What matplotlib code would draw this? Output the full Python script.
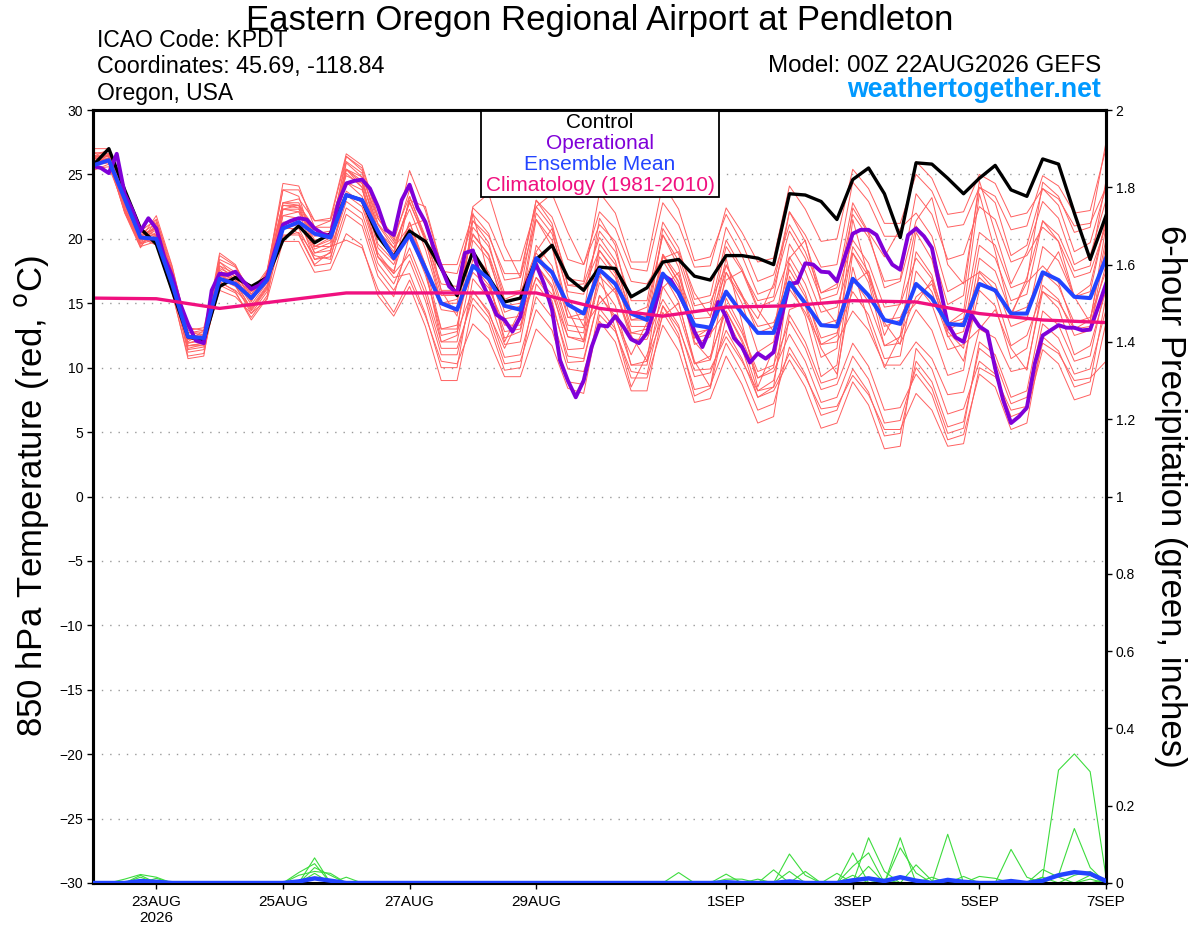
import numpy as np
import matplotlib
matplotlib.use("Agg")
import matplotlib.pyplot as plt
from matplotlib.patches import Rectangle

plt.rcParams['font.family'] = ['Liberation Sans', 'DejaVu Sans']

# 6-hourly steps from 00Z 22AUG2026 (65 points), operational is 3-hourly (129 points)
tick_days = [1, 3, 5, 7, 10, 12, 14, 16]
tick_labels = ['23AUG\n2026', '25AUG', '27AUG', '29AUG', '1SEP', '3SEP', '5SEP', '7SEP']

control = [25.7, 27.0, 23.8, 20.8, 19.6, 16.0, 12.4, 12.1, 16.3, 17.0, 16.3, 17.0,
           19.9, 21.0, 19.7, 20.4, 23.4, 23.0, 20.2, 18.6, 20.6, 19.8, 17.7, 15.6,
           19.0, 17.0, 15.1, 15.4, 18.4, 19.5, 17.0, 16.0, 17.8, 17.7, 15.5, 16.2,
           18.2, 18.4, 17.1, 16.8, 18.7, 18.7, 18.5, 18.0, 23.5, 23.4, 22.9, 21.5,
           24.6, 25.5, 23.5, 20.1, 25.9, 25.8, 24.7, 23.5, 24.7, 25.7, 23.8, 23.3,
           26.2, 25.8, 22.0, 18.4, 21.8]

operational = [25.65, 25.5, 25.1, 26.6, 23.5, 22.2, 20.6, 21.6, 20.8, 18.6, 17.1, 15.0,
               13.4, 12.1, 11.9, 16.0, 17.3, 17.2, 17.45, 16.7, 16.1, 16.4, 17.0, 19.1,
               21.1, 21.4, 21.6, 21.5, 20.8, 20.4, 20.2, 22.8, 24.3, 24.5, 24.6, 23.9,
               22.5, 20.7, 20.3, 23.0, 24.2, 22.4, 21.3, 19.4, 17.8, 16.3, 15.8, 18.9,
               19.1, 16.8, 15.5, 14.1, 13.7, 12.8, 13.95, 16.8, 18.0, 16.5, 14.5, 10.6,
               9.0, 7.7, 9.0, 11.6, 13.3, 13.2, 14.0, 13.2, 12.2, 11.9, 12.7, 14.7,
               17.2, 16.8, 15.8, 14.5, 12.8, 11.6, 13.05, 15.1, 13.95, 12.3, 11.6, 10.4,
               11.1, 10.7, 11.2, 13.95, 16.5, 16.6, 18.1, 18.0, 17.45, 17.4, 16.7, 18.6,
               20.4, 20.7, 20.7, 20.3, 19.0, 18.0, 17.6, 20.3, 20.8, 20.2, 19.3, 16.3,
               13.4, 12.35, 12.0, 14.1, 13.2, 12.8, 9.95, 7.5, 5.7, 6.2, 6.9, 10.3,
               12.5, 12.9, 13.3, 13.1, 13.1, 12.9, 12.95, 14.7, 16.5]

ens_mean = [25.7, 26.1, 23.1, 20.1, 20.0, 16.5, 12.4, 12.3, 16.9, 16.5, 15.4, 16.8,
            20.8, 21.3, 20.4, 20.1, 23.4, 23.0, 20.6, 18.5, 20.3, 17.7, 15.0, 14.5,
            17.9, 16.9, 14.8, 14.5, 18.5, 17.4, 14.9, 14.2, 17.6, 16.5, 14.2, 13.7,
            17.3, 15.8, 13.3, 13.1, 15.9, 14.2, 12.7, 12.7, 16.6, 15.0, 13.3, 13.2,
            16.9, 15.6, 13.7, 13.4, 16.5, 15.4, 13.4, 13.3, 16.5, 16.0, 14.2, 14.2,
            17.4, 16.8, 15.5, 15.4, 18.5]

# daily climatology
climatology = [15.4, 15.35, 14.6, 15.2, 15.8, 15.8, 15.8, 15.8, 14.6, 14.0, 14.7,
               14.8, 15.2, 15.1, 14.2, 13.7, 13.5]

members = [
    [26.3, 26.5, 23.2, 20.3, 20.8, 17.1, 12.7, 12.7, 17.7, 17.1, 15.7, 17.2, 22.3, 22.6, 20.9, 20.9,
     25.4, 24.8, 21.6, 19.8, 23.8, 21.0, 17.5, 17.3, 21.4, 20.2, 17.3, 17.3, 23.0, 21.7, 18.4, 18.0,
     22.1, 20.8, 17.7, 17.5, 22.8, 21.1, 17.8, 17.9, 22.4, 20.5, 18.2, 18.5, 24.1, 22.3, 19.8, 20.0,
     25.4, 23.9, 21.2, 21.2, 25.0, 23.7, 20.9, 21.1, 24.0, 23.3, 20.7, 21.0, 24.9, 24.1, 22.0, 22.2, 27.0],
    [25.9, 26.1, 22.3, 19.6, 20.0, 16.3, 11.4, 11.6, 16.4, 15.8, 13.9, 15.6, 20.8, 20.8, 18.4, 18.6,
     22.4, 21.5, 17.6, 16.0, 18.3, 15.2, 11.0, 11.0, 15.9, 14.4, 10.8, 11.0, 15.5, 13.9, 9.9, 9.7,
     13.6, 12.0, 8.2, 8.2, 14.3, 12.3, 8.3, 8.6, 11.9, 9.7, 6.7, 7.2, 11.6, 9.5, 6.3, 6.7,
     9.9, 8.1, 4.7, 4.9, 10.5, 8.9, 5.4, 5.8, 11.5, 10.5, 7.2, 7.7, 13.4, 12.3, 9.5, 9.9, 14.5],
    [27.0, 27.0, 22.9, 20.2, 20.8, 16.9, 11.7, 11.9, 18.7, 17.9, 15.7, 17.4, 24.3, 24.1, 20.9, 21.4,
     26.4, 25.3, 20.6, 19.3, 21.0, 21.5, 16.0, 14.0, 21.4, 19.7, 15.3, 15.8, 19.0, 20.8, 15.5, 13.2,
     19.1, 17.3, 12.7, 13.0, 16.2, 17.4, 12.0, 10.6, 17.4, 15.0, 11.2, 12.0, 18.5, 19.9, 15.0, 13.4,
     22.4, 20.4, 16.2, 16.7, 21.4, 23.2, 18.0, 16.5, 24.0, 22.8, 18.7, 19.5, 23.9, 22.6, 19.0, 19.7, 24.0],
    [25.7, 25.9, 22.1, 19.4, 21.0, 17.3, 12.4, 12.6, 17.4, 16.8, 14.9, 16.6, 21.2, 20.4, 18.0, 19.0,
     23.4, 22.5, 18.6, 17.0, 17.3, 14.2, 10.0, 10.0, 16.9, 15.4, 11.8, 12.0, 18.5, 16.9, 12.9, 12.7,
     19.6, 18.0, 14.2, 14.2, 20.3, 18.3, 14.3, 14.6, 19.9, 17.7, 14.7, 15.2, 18.6, 16.5, 13.3, 13.7,
     16.9, 15.1, 11.7, 11.9, 14.5, 12.9, 9.4, 9.8, 17.5, 16.5, 13.2, 13.7, 19.4, 18.3, 15.5, 15.9, 21.5],
    [26.0, 26.2, 22.9, 20.0, 19.8, 16.1, 11.7, 11.7, 17.9, 16.8, 15.4, 17.5, 22.8, 23.1, 21.4, 21.4,
     24.9, 24.3, 21.1, 19.3, 22.8, 20.0, 16.5, 16.3, 22.4, 21.2, 18.3, 18.3, 22.5, 23.5, 20.5, 18.0,
     21.1, 19.8, 16.7, 16.5, 18.5, 19.0, 15.8, 14.0, 17.4, 15.5, 13.2, 13.5, 16.1, 14.3, 11.8, 12.0,
     14.4, 12.9, 10.2, 10.2, 12.0, 10.7, 7.9, 8.1, 13.0, 12.3, 9.7, 10.0, 15.9, 15.1, 13.0, 13.2, 18.0],
    [26.4, 26.9, 22.6, 20.0, 21.8, 17.9, 12.7, 12.9, 17.2, 16.4, 14.2, 15.9, 22.3, 22.1, 18.9, 19.4,
     25.4, 24.3, 19.6, 18.3, 20.8, 17.5, 12.5, 12.8, 16.0, 14.2, 11.5, 14.0, 17.0, 15.2, 10.4, 10.5,
     15.6, 13.8, 11.0, 13.5, 18.8, 16.6, 11.8, 12.4, 18.0, 15.6, 13.8, 16.5, 22.1, 19.8, 15.8, 16.5,
     22.8, 20.5, 18.6, 20.8, 22.0, 20.2, 15.9, 16.6, 17.4, 16.0, 14.2, 16.6, 17.9, 16.6, 13.0, 13.7, 20.0],
    [25.4, 25.6, 22.4, 19.8, 20.5, 16.8, 11.9, 12.1, 17.9, 17.3, 15.4, 17.1, 21.3, 21.3, 18.9, 19.1,
     22.9, 22.0, 18.1, 16.5, 19.3, 16.2, 12.0, 12.0, 17.9, 16.4, 12.8, 13.0, 19.5, 17.9, 13.9, 13.7,
     17.6, 16.0, 12.2, 12.2, 15.3, 13.3, 9.3, 9.6, 12.9, 10.7, 7.7, 8.2, 10.6, 8.5, 5.3, 5.7,
     8.9, 7.1, 3.7, 3.9, 11.5, 9.9, 6.4, 6.8, 10.5, 9.5, 6.2, 6.7, 11.4, 10.3, 7.5, 7.9, 13.5],
    [26.4, 26.6, 22.8, 20.1, 19.5, 15.8, 10.9, 11.1, 16.9, 16.3, 14.4, 16.1, 22.3, 22.3, 19.9, 20.1,
     26.4, 25.5, 21.6, 20.0, 25.3, 22.2, 18.0, 18.0, 21.9, 20.4, 16.8, 17.0, 21.5, 19.9, 15.9, 15.7,
     20.6, 19.0, 15.2, 15.2, 21.3, 19.3, 15.3, 15.6, 20.9, 18.7, 15.7, 16.2, 20.6, 18.5, 15.3, 15.7,
     19.9, 18.1, 14.7, 14.9, 18.5, 16.9, 13.4, 13.8, 20.5, 19.5, 16.2, 16.7, 24.4, 23.3, 20.5, 20.9, 27.5],
    [26.7, 26.6, 22.1, 19.6, 21.5, 17.5, 11.9, 12.3, 18.9, 18.0, 15.4, 17.3, 23.8, 23.3, 19.4, 20.1,
     25.4, 24.0, 18.6, 17.5, 21.3, 17.7, 12.0, 12.5, 22.0, 17.0, 12.0, 14.5, 21.5, 19.4, 13.9, 14.2,
     21.6, 19.5, 14.2, 14.7, 20.3, 17.8, 12.3, 13.1, 18.5, 13.5, 8.5, 11.5, 16.6, 14.0, 9.3, 10.2,
     18.9, 16.6, 11.7, 12.4, 20.5, 18.4, 13.4, 14.3, 23.5, 19.0, 14.0, 17.0, 21.4, 19.8, 15.5, 16.4, 21.5],
    [26.0, 26.2, 22.4, 19.7, 20.2, 16.4, 11.5, 11.8, 16.0, 15.5, 14.2, 15.3, 19.8, 19.8, 17.4, 17.6,
     20.4, 19.5, 15.6, 14.0, 16.3, 13.2, 9.0, 9.0, 14.9, 13.4, 9.8, 10.0, 16.5, 14.9, 10.9, 10.7,
     15.6, 14.0, 10.2, 10.2, 16.3, 14.3, 10.3, 10.6, 14.9, 12.7, 9.7, 10.2, 13.6, 11.5, 8.3, 8.7,
     11.9, 10.1, 6.7, 6.9, 9.5, 7.9, 4.4, 4.8, 9.5, 8.5, 5.2, 5.7, 12.4, 11.3, 8.5, 8.9, 15.5],
    [25.9, 26.3, 23.6, 20.6, 20.3, 17.4, 13.1, 12.9, 17.2, 16.6, 15.2, 16.7, 21.8, 22.1, 20.4, 20.4,
     24.4, 23.8, 20.6, 18.8, 20.8, 18.0, 14.5, 14.3, 17.4, 16.2, 13.3, 13.3, 17.0, 15.7, 12.4, 12.0,
     17.1, 15.8, 12.7, 12.5, 18.8, 17.1, 13.8, 13.9, 19.4, 17.5, 15.2, 15.5, 22.1, 20.3, 17.8, 18.0,
     24.4, 22.9, 20.2, 20.2, 26.0, 24.7, 21.9, 22.1, 25.0, 24.3, 21.7, 22.0, 23.9, 23.1, 21.0, 21.2, 24.0],
    [26.2, 26.2, 22.1, 19.4, 19.8, 15.9, 10.7, 10.9, 18.2, 17.4, 15.2, 16.9, 22.8, 22.6, 19.4, 19.9,
     24.4, 23.3, 18.6, 17.3, 23.3, 20.0, 15.0, 15.3, 20.4, 18.7, 14.3, 14.8, 18.0, 19.5, 14.5, 12.0,
     16.6, 14.8, 10.2, 10.5, 14.0, 15.0, 10.5, 8.5, 15.4, 13.0, 9.2, 10.0, 18.1, 15.8, 11.8, 12.5,
     19.4, 17.4, 13.2, 13.7, 15.0, 16.8, 12.5, 10.5, 16.0, 14.8, 10.7, 11.5, 17.0, 19.0, 15.5, 13.5, 21.0],
    [26.2, 26.4, 22.6, 19.9, 20.7, 17.6, 12.9, 12.4, 16.6, 16.0, 14.7, 16.4, 20.3, 20.3, 17.9, 18.1,
     21.9, 21.0, 17.1, 15.5, 20.3, 17.2, 13.0, 13.0, 19.9, 18.4, 14.8, 15.0, 22.0, 20.4, 16.4, 16.2,
     19.1, 17.5, 13.7, 13.7, 18.3, 16.3, 12.3, 12.6, 14.4, 12.2, 9.2, 9.7, 12.6, 10.5, 7.3, 7.7,
     10.9, 9.1, 5.7, 5.9, 10.0, 8.4, 4.9, 5.3, 12.0, 11.0, 7.7, 8.2, 14.4, 13.3, 10.5, 10.9, 16.5],
    [26.6, 26.8, 23.0, 20.3, 20.9, 16.6, 12.2, 12.5, 18.4, 17.8, 15.9, 17.6, 23.8, 23.8, 21.4, 21.6,
     26.6, 25.7, 21.8, 20.2, 23.3, 20.2, 16.0, 16.0, 18.9, 17.4, 13.8, 14.0, 18.0, 16.4, 12.4, 12.2,
     18.6, 17.0, 13.2, 13.2, 20.8, 18.8, 14.8, 15.1, 17.9, 15.7, 12.7, 13.2, 17.6, 15.5, 12.3, 12.7,
     15.9, 14.1, 10.7, 10.9, 17.5, 15.9, 12.4, 12.8, 19.5, 18.5, 15.2, 15.7, 21.4, 20.3, 17.5, 17.9, 24.5],
    [26.1, 26.1, 22.0, 19.3, 21.3, 17.4, 12.2, 12.4, 17.0, 16.7, 14.5, 16.2, 21.8, 21.6, 18.4, 18.9,
     25.9, 24.8, 20.1, 18.8, 23.0, 22.5, 18.0, 15.5, 22.5, 23.5, 19.5, 17.0, 23.0, 21.2, 16.4, 16.5,
     20.1, 18.3, 13.7, 14.0, 17.3, 15.1, 10.3, 10.9, 14.4, 12.0, 8.2, 9.0, 14.5, 15.0, 11.5, 9.5,
     16.5, 17.5, 13.5, 11.8, 19.0, 17.2, 12.9, 13.6, 17.0, 15.8, 11.7, 12.5, 15.9, 14.6, 11.0, 11.7, 16.0],
    [26.3, 26.5, 22.7, 20.0, 19.7, 16.0, 11.7, 11.9, 17.6, 16.5, 14.6, 16.3, 20.2, 20.5, 18.7, 18.4,
     23.7, 22.8, 18.9, 17.3, 18.8, 15.7, 11.5, 11.5, 15.4, 13.9, 10.3, 10.5, 14.5, 12.9, 8.9, 8.7,
     14.6, 13.0, 9.2, 9.2, 13.3, 11.3, 7.3, 7.6, 10.9, 8.7, 5.7, 6.2, 14.1, 12.0, 8.8, 9.2,
     17.8, 13.5, 10.0, 12.5, 15.5, 16.5, 12.8, 11.5, 18.5, 17.5, 14.2, 14.7, 17.4, 16.3, 13.5, 13.9, 17.5],
    [25.6, 26.6, 22.9, 20.6, 21.5, 17.8, 12.9, 13.1, 18.2, 17.0, 15.1, 17.4, 22.8, 22.8, 20.4, 20.6,
     26.0, 25.1, 21.2, 19.6, 22.3, 19.2, 15.0, 15.0, 20.9, 19.4, 15.8, 16.0, 22.5, 20.9, 16.9, 16.7,
     23.6, 22.0, 18.2, 18.2, 24.3, 22.3, 18.3, 18.6, 21.9, 19.7, 16.7, 17.2, 21.1, 19.0, 15.8, 16.2,
     21.9, 20.1, 16.7, 16.9, 23.5, 21.9, 18.4, 18.8, 22.5, 21.5, 18.2, 18.7, 20.9, 19.8, 17.0, 17.4, 21.0],
    [26.4, 26.4, 22.3, 19.6, 20.3, 16.4, 11.2, 11.4, 16.7, 15.9, 13.7, 15.4, 22.6, 22.4, 19.2, 19.7,
     25.1, 24.0, 19.3, 18.0, 21.3, 18.0, 13.0, 13.3, 18.4, 16.7, 12.3, 12.8, 18.0, 16.2, 11.4, 11.5,
     17.5, 13.0, 8.5, 11.0, 14.8, 12.6, 7.8, 8.4, 13.9, 11.5, 7.7, 8.5, 17.1, 14.8, 10.8, 11.5,
     21.5, 17.0, 12.5, 15.0, 21.0, 19.2, 14.9, 15.6, 24.5, 20.5, 16.5, 19.0, 22.9, 21.6, 18.0, 18.7, 23.0],
    [26.2, 26.4, 23.1, 20.2, 20.3, 16.6, 12.2, 12.2, 17.4, 17.3, 15.9, 16.9, 20.8, 21.1, 19.4, 19.4,
     19.9, 19.3, 16.1, 14.3, 16.8, 14.0, 10.5, 10.3, 13.4, 12.2, 9.3, 9.3, 13.0, 11.7, 8.4, 8.0,
     14.1, 12.8, 9.7, 9.5, 14.8, 13.1, 9.8, 9.9, 12.4, 10.5, 8.2, 8.5, 11.1, 9.3, 6.8, 7.0,
     9.4, 7.9, 5.2, 5.2, 8.0, 6.7, 3.9, 4.1, 10.0, 9.3, 6.7, 7.0, 11.9, 11.1, 9.0, 9.2, 10.5],
    [25.3, 25.8, 22.8, 20.4, 21.2, 17.0, 12.0, 12.9, 17.1, 17.0, 15.2, 16.9, 22.6, 22.6, 20.2, 20.4,
     25.4, 24.5, 20.6, 19.0, 22.9, 19.8, 15.6, 15.6, 20.3, 18.8, 15.2, 15.4, 18.9, 17.3, 13.3, 13.1,
     15.0, 16.2, 12.5, 10.5, 18.7, 16.7, 12.7, 13.0, 16.8, 17.5, 14.5, 12.8, 19.6, 17.5, 14.3, 14.7,
     18.9, 17.1, 13.7, 13.9, 16.5, 14.9, 11.4, 11.8, 13.0, 14.5, 11.5, 9.8, 16.4, 15.3, 12.5, 12.9, 19.5],
]

# 6-hour precipitation (inches)
precip_members = [
    [0, 0, 0, 0.02, 0, 0, 0, 0, 0, 0, 0, 0, 0, 0, 0.065, 0, 0, 0, 0, 0, 0, 0, 0, 0, 0, 0, 0, 0, 0, 0, 0, 0,
     0, 0, 0, 0, 0, 0, 0, 0, 0, 0, 0, 0, 0, 0, 0, 0, 0, 0, 0, 0, 0, 0, 0.126, 0, 0, 0, 0, 0,
     0.015, 0.292, 0.334, 0.288, 0.016],
    [0, 0, 0, 0, 0, 0, 0, 0, 0, 0, 0, 0, 0, 0.027, 0.05, 0, 0, 0, 0, 0, 0, 0, 0, 0, 0, 0, 0, 0, 0, 0, 0, 0,
     0, 0, 0, 0, 0, 0, 0, 0, 0, 0, 0, 0, 0, 0, 0, 0, 0.078, 0, 0, 0.117, 0, 0, 0, 0, 0, 0, 0, 0,
     0, 0.02, 0.141, 0.04, 0],
    [0, 0, 0.01, 0.022, 0.015, 0, 0, 0, 0, 0, 0, 0, 0, 0, 0.04, 0.02, 0, 0, 0, 0, 0, 0, 0, 0, 0, 0, 0, 0, 0, 0, 0, 0,
     0, 0, 0, 0, 0, 0, 0, 0, 0, 0, 0, 0, 0, 0, 0, 0, 0.043, 0.078, 0, 0.091, 0.026, 0, 0, 0, 0, 0, 0, 0,
     0, 0, 0, 0.02, 0],
    [0, 0, 0, 0.015, 0, 0, 0, 0, 0, 0, 0, 0, 0, 0.02, 0.03, 0.025, 0, 0, 0, 0, 0, 0, 0, 0, 0, 0, 0, 0, 0, 0, 0, 0,
     0, 0, 0, 0, 0, 0, 0, 0, 0, 0, 0, 0, 0, 0, 0, 0, 0, 0.117, 0.03, 0, 0.047, 0.006, 0, 0, 0, 0, 0, 0,
     0, 0, 0, 0, 0],
    [0, 0, 0, 0, 0.012, 0, 0, 0, 0, 0, 0, 0, 0, 0, 0, 0, 0.015, 0, 0, 0, 0, 0, 0, 0, 0, 0, 0, 0, 0, 0, 0, 0,
     0, 0, 0, 0, 0, 0, 0, 0, 0, 0, 0, 0, 0.075, 0.02, 0, 0, 0, 0.043, 0, 0, 0, 0, 0, 0, 0.017, 0.012, 0, 0,
     0.035, 0.015, 0, 0, 0],
    [0, 0, 0, 0, 0, 0, 0, 0, 0, 0, 0, 0, 0, 0, 0, 0, 0, 0, 0, 0, 0, 0, 0, 0, 0, 0, 0, 0, 0, 0, 0, 0,
     0, 0, 0, 0, 0, 0.027, 0, 0, 0.023, 0, 0, 0.034, 0, 0, 0, 0.025, 0, 0, 0, 0, 0, 0, 0, 0, 0, 0, 0.087, 0.015,
     0, 0, 0, 0, 0.01],
    [0, 0, 0, 0, 0, 0, 0, 0, 0, 0, 0, 0, 0, 0, 0.025, 0, 0, 0, 0, 0, 0, 0, 0, 0, 0, 0, 0, 0, 0, 0, 0, 0,
     0, 0, 0, 0, 0, 0, 0, 0, 0, 0, 0.01, 0, 0, 0.03, 0, 0, 0, 0, 0.01, 0, 0, 0, 0, 0.017, 0, 0, 0, 0,
     0, 0, 0.02, 0.03, 0],
    [0, 0, 0, 0, 0, 0, 0, 0, 0, 0, 0, 0, 0, 0, 0, 0, 0, 0, 0, 0, 0, 0, 0, 0, 0, 0, 0, 0, 0, 0, 0, 0,
     0, 0, 0, 0, 0, 0, 0, 0, 0.01, 0.01, 0, 0, 0.03, 0, 0, 0, 0.02, 0, 0, 0, 0, 0.015, 0, 0, 0, 0, 0, 0,
     0.015, 0, 0, 0.01, 0],
]

precip_mean = [0, 0, 0, 0.005, 0.003, 0, 0, 0, 0, 0, 0, 0, 0, 0.004, 0.012, 0.006, 0, 0, 0, 0, 0, 0, 0, 0,
               0, 0, 0, 0, 0, 0, 0, 0, 0, 0, 0, 0, 0, 0, 0, 0, 0.002, 0, 0, 0, 0.004, 0, 0, 0,
               0.007, 0.012, 0.005, 0.015, 0.006, 0, 0.008, 0.003, 0, 0, 0.005, 0, 0.006, 0.02, 0.028, 0.024,
               0.005]

days = np.arange(len(ens_mean)) / 4.0
op_days = np.arange(len(operational)) / 8.0
clim_days = np.arange(len(climatology))

W, H = 1200, 927
fig = plt.figure(figsize=(W / 100, H / 100), dpi=100)


def fx(x):
    return x / W


def fy(y):
    return 1 - y / H


ax = fig.add_axes([fx(93), fy(883), fx(1106) - fx(93), fy(110) - fy(883)])
ax2 = ax.twinx()

for m in members:
    ax.plot(days, m, color='#ff6060', lw=0.7, zorder=2)
ax.plot(days, control, color='black', lw=2.4, zorder=4)
ax.plot(op_days, operational, color='#8000d8', lw=2.8, zorder=5)
ax.plot(days, ens_mean, color='#2244ff', lw=2.9, zorder=6)
ax.plot(clim_days, climatology, color='#f0107f', lw=2.4, zorder=7)

for p in precip_members:
    ax2.plot(days, p, color='#3ddc3d', lw=0.8, zorder=2)
ax2.plot(days, precip_mean, color='#2244ff', lw=3.2, zorder=3)

ax.set_xlim(0, 16)
ax.set_ylim(-30, 30)
ax2.set_ylim(0, 2)
ax.set_yticks(range(-30, 31, 5))
ax2.set_yticks(np.arange(0, 2.01, 0.2))
ax2.set_yticklabels(['0', '0.2', '0.4', '0.6', '0.8', '1', '1.2', '1.4', '1.6', '1.8', '2'])
ax.set_xticks(tick_days)
ax.set_xticklabels(tick_labels, fontsize=11, linespacing=1.15)

ax.grid(axis='y', linestyle=(0, (1, 5)), color='#999999', lw=1.0)
ax.tick_params(axis='y', labelsize=10, length=4, width=1, direction='out', pad=3)
ax.tick_params(axis='x', length=4, width=1, direction='out', pad=5)
ax2.tick_params(axis='y', labelsize=10, length=4, width=1, direction='out', pad=3)

for a in (ax, ax2):
    for s in a.spines.values():
        s.set_linewidth(2.2)

# legend box
fig.add_artist(Rectangle((fx(481), fy(197)), fx(719) - fx(481), fy(111) - fy(197),
                         transform=fig.transFigure, facecolor='white', edgecolor='black',
                         lw=1.3, zorder=10))
legend_items = [('Control', 'black', 128), ('Operational', '#8000d8', 149),
                ('Ensemble Mean', '#2244ff', 170), ('Climatology (1981-2010)', '#f0107f', 191)]
for txt, col, yb in legend_items:
    fig.text(fx(600), fy(yb), txt, color=col, fontsize=15, ha='center', va='baseline', zorder=11)

# header
fig.text(fx(600), fy(30), 'Eastern Oregon Regional Airport at Pendleton', fontsize=25,
         ha='center', va='baseline')
fig.text(fx(97), fy(47), 'ICAO Code: KPDT', fontsize=16.5, va='baseline')
fig.text(fx(97), fy(73), 'Coordinates: 45.69, -118.84', fontsize=16.8, va='baseline')
fig.text(fx(97), fy(100), 'Oregon, USA', fontsize=16.5, va='baseline')
fig.text(fx(1101), fy(72), 'Model: 00Z 22AUG2026 GEFS', fontsize=17.4, ha='right', va='baseline')
fig.text(fx(1101), fy(97), 'weathertogether.net', fontsize=19.3, fontweight='bold',
         color='#0099ff', ha='right', va='baseline')

fig.text(fx(32), fy(496), '850 hPa Temperature (red, $^{\\mathrm{o}}$C)', fontsize=25,
         rotation=90, ha='center', va='center')
fig.text(fx(1171), fy(496), '6-hour Precipitation (green, inches)', fontsize=25,
         rotation=-90, ha='center', va='center')

fig.savefig('out.png', dpi=100)
